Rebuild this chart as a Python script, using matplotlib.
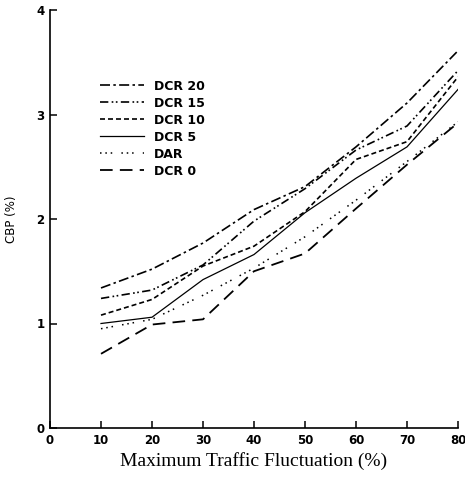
import matplotlib
matplotlib.use("Agg")
import matplotlib.pyplot as plt

x = [10, 20, 30, 40, 50, 60, 70, 80]
dcr20 = [1.34, 1.52, 1.77, 2.09, 2.31, 2.69, 3.11, 3.61]
dcr15 = [1.24, 1.32, 1.56, 1.98, 2.29, 2.66, 2.89, 3.42]
dcr10 = [1.08, 1.23, 1.55, 1.74, 2.07, 2.57, 2.74, 3.36]
dcr5 = [1.00, 1.06, 1.42, 1.66, 2.06, 2.39, 2.69, 3.24]
dar = [0.95, 1.04, 1.27, 1.53, 1.83, 2.18, 2.55, 2.93]
dcr0 = [0.71, 0.99, 1.04, 1.50, 1.67, 2.10, 2.52, 2.92]
labels = ["DCR 20", "DCR 15", "DCR 10", "DCR 5", "DAR", "DCR 0"]
xticks = [0, 10, 20, 30, 40, 50, 60, 70, 80]
yticks = [0, 1, 2, 3, 4]

series = [dcr20, dcr15, dcr10, dcr5, dar, dcr0]
styles = [(0, (6, 2, 1.5, 2)),
          (0, (5, 2, 1, 1.5, 1, 2)),
          (0, (3, 1.8)),
          "-",
          (0, (1, 2.5, 1, 2.5, 1, 6)),
          (0, (7, 4))]
widths = [1.2, 1.2, 1.2, 0.9, 1.1, 1.3]

fig = plt.figure(figsize=(4.65, 4.78), dpi=100)
ax = fig.add_axes([50/465, 50/478, 408/465, 418/478])

for s, ls, lw, lab in zip(series, styles, widths, labels):
    ax.plot(x, s, color="black", linestyle=ls, linewidth=lw, label=lab)

ax.set_xlim(0, 80)
ax.set_ylim(0, 4)
ax.set_xticks(xticks)
ax.set_yticks(yticks)
ax.spines["top"].set_visible(False)
ax.spines["right"].set_visible(False)
ax.spines["left"].set_linewidth(1.2)
ax.spines["bottom"].set_linewidth(1.2)
ax.tick_params(direction="in", length=5, width=1.1, labelsize=8.5, pad=4)
for t in ax.get_xticklabels() + ax.get_yticklabels():
    t.set_fontweight("bold")
    t.set_family("DejaVu Sans")

ax.set_xlabel("Maximum Traffic Fluctuation (%)", family="Liberation Serif", fontsize=14, labelpad=4)
ax.set_ylabel("CBP (%)", fontsize=8.5)
ax.yaxis.set_label_coords(-0.078, 0.5)

leg = ax.legend(loc="upper left", bbox_to_anchor=(0.095, 0.86), frameon=False,
                handlelength=3.5, handletextpad=0.8, labelspacing=0.32,
                prop={"weight": "bold", "size": 9, "family": "DejaVu Sans"})

fig.savefig("out.png", dpi=100)
